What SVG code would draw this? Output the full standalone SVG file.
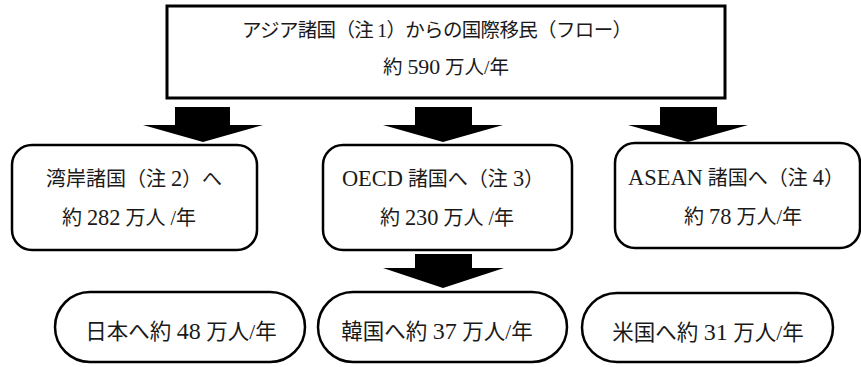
<svg xmlns="http://www.w3.org/2000/svg" width="861" height="367" viewBox="0 0 861 367">
<style>
.box{fill:#fff;stroke:#000;stroke-width:2.5}
.top{fill:#fff;stroke:#000;stroke-width:3}
.arr{fill:#000;stroke:none}
text{font-family:"Liberation Serif","Noto Sans CJK JP",serif;fill:#1a1a1a;text-anchor:middle}
.t18{font-size:19.5px}
.t19{font-size:20px}
.t20{font-size:21.5px}
.n{font-size:1.12em}
</style>
<rect width="861" height="367" fill="#fff"/>
<g id="connectors">
<polygon class="arr" points="175,107 230,107 230,125 263,125 203,142 143,125 175,125"/>
<polygon class="arr" points="415,107 472,107 472,125 503,125 443,142 383,125 415,125"/>
<polygon class="arr" points="660,107 717,107 717,125 748,125 688,142 628,125 660,125"/>
<polygon class="arr" points="415,254 472,254 472,268 504,268 443,288 383,268 415,268"/>
</g>
<g id="node-asia">
<rect class="top" x="167" y="6" width="558" height="92"/>
<text class="t18" x="437" y="37" textLength="390" lengthAdjust="spacing">アジア諸国（注 1）からの国際移民（フロー）</text>
<text class="t18" x="446" y="74">約 <tspan class="n">590</tspan> 万人/年</text>
</g>
<g id="node-gulf">
<rect class="box" x="12" y="145" width="245" height="105" rx="20"/>
<text class="t19" x="134" y="186">湾岸諸国（注 <tspan class="n">2</tspan>）へ</text>
<text class="t19" x="129" y="225">約 <tspan class="n">282</tspan> 万人 /年</text>
</g>
<g id="node-oecd">
<rect class="box" x="323" y="145" width="249" height="105" rx="20"/>
<text class="t19" x="443" y="186"><tspan class="n">OECD</tspan> 諸国へ（注 <tspan class="n">3</tspan>）</text>
<text class="t19" x="447" y="225">約 <tspan class="n">230</tspan> 万人 /年</text>
</g>
<g id="node-asean">
<rect class="box" x="615" y="143" width="245" height="105" rx="20"/>
<text class="t19" x="736" y="185"><tspan class="n">ASEAN</tspan> 諸国へ（注 <tspan class="n">4</tspan>）</text>
<text class="t19" x="743" y="224">約 <tspan class="n">78</tspan> 万人/年</text>
</g>
<g id="node-japan">
<rect class="box" x="55" y="292" width="250" height="70" rx="35"/>
<text class="t20" x="181" y="339">日本へ約 <tspan class="n">48</tspan> 万人/年</text>
</g>
<g id="node-korea">
<rect class="box" x="318" y="292" width="249" height="70" rx="35"/>
<text class="t20" x="437" y="339">韓国へ約 <tspan class="n">37</tspan> 万人/年</text>
</g>
<g id="node-us">
<rect class="box" x="582" y="293" width="251" height="69" rx="35"/>
<text class="t20" x="708" y="340">米国へ約 <tspan class="n">31</tspan> 万人/年</text>
</g>
</svg>
